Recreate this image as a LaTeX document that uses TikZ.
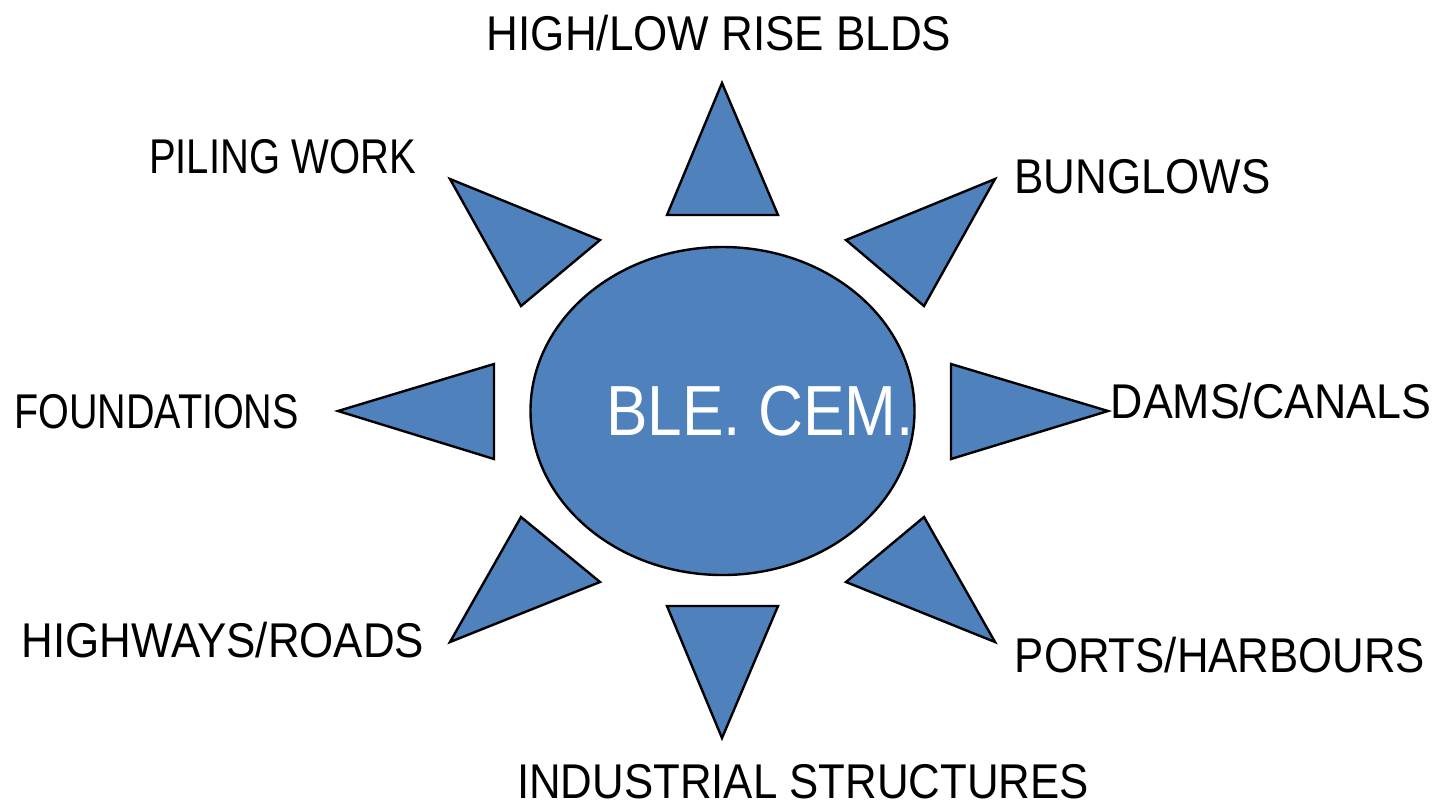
\documentclass[tikz,border=0pt]{standalone}
\usepackage{fontspec}
\setmainfont{Liberation Sans}[FakeStretch=0.85]
\usetikzlibrary{shapes.geometric}
\definecolor{petalblue}{HTML}{4F81BD}
\newcommand{\hs}[2]{\scalebox{#1}[1]{#2}}
\begin{document}
\begin{tikzpicture}[x=0.5pt,y=-0.5pt,
  petal/.style={fill=petalblue,draw=black,line width=1.2pt,line join=miter},
  lbl/.style={font=\fontsize{24.4}{28}\selectfont,inner sep=0pt,anchor=base,text=black}]
\useasboundingbox (0,0) rectangle (1435,805);
% centre
\node[petal,ellipse,minimum width=192pt,minimum height=164pt,inner sep=0pt] (core) at (722.5,411) {};
\node[lbl,font=\fontsize{35.5}{40}\selectfont,text=white] (coretext) at (760,435) {\hs{1.03}{BLE. CEM.}};
% petals
\draw[petal] (722,83) -- (778,215) -- (667,215) -- cycle;
\draw[petal] (667,606) -- (778,606) -- (722,738) -- cycle;
\draw[petal] (338,411) -- (494,364) -- (494,459) -- cycle;
\draw[petal] (951,364) -- (1108,411) -- (951,459) -- cycle;
\draw[petal] (450,179) -- (600,240) -- (521,306) -- cycle;
\draw[petal] (995,179) -- (846,240) -- (924,306) -- cycle;
\draw[petal] (521,517) -- (600,582) -- (450,642) -- cycle;
\draw[petal] (924,517) -- (846,582) -- (995,642) -- cycle;
% labels
\node[lbl] (top) at (719,50) {\hs{1.06}{HIGH/LOW RISE BLDS}};
\node[lbl] (piling) at (282.5,173) {\hs{0.964}{PILING WORK}};
\node[lbl] (bung) at (1142.5,193) {\hs{1.06}{BUNGLOWS}};
\node[lbl] (found) at (156.5,428) {\hs{0.953}{FOUNDATIONS}};
\node[lbl] (dams) at (1271,418) {\hs{1.078}{DAMS/CANALS}};
\node[lbl] (high) at (223,657) {\hs{1.058}{HIGHWAYS/ROADS}};
\node[lbl] (ports) at (1220,672) {\hs{1.055}{PORTS/HARBOURS}};
\node[lbl] (ind) at (803,798) {\hs{1.056}{INDUSTRIAL STRUCTURES}};
\end{tikzpicture}
\end{document}
